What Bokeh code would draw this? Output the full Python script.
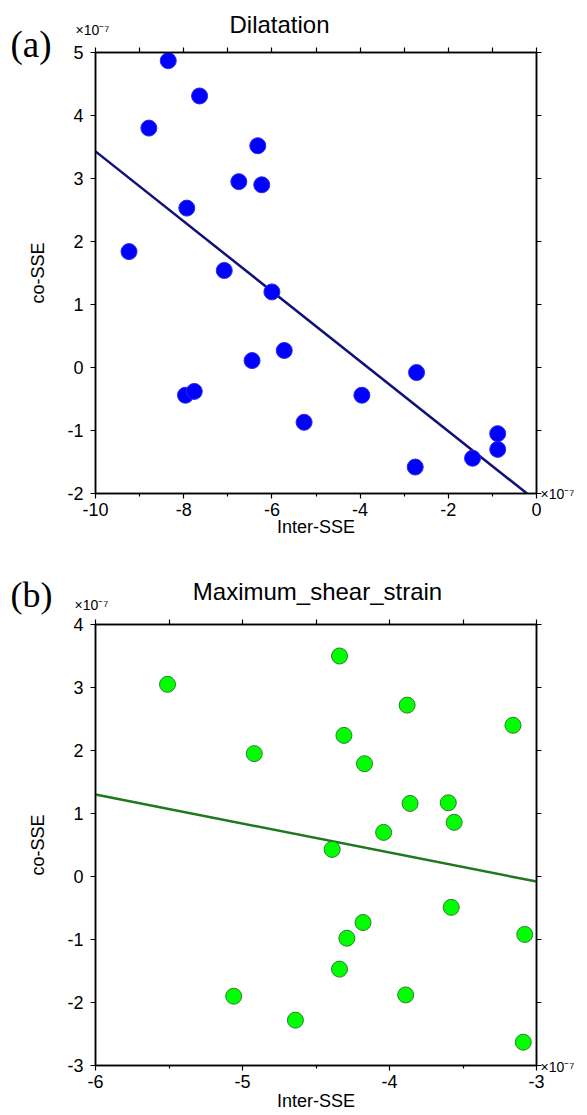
from bokeh.plotting import figure
from bokeh.models import Range1d, LinearAxis, FixedTicker, Label, CustomLabelingPolicy
from bokeh.layouts import column
from bokeh.embed import file_html
from bokeh.resources import INLINE
import numpy as np

# ---------------- data (values in units of 1e-7) ----------------
# Panel (a) Dilatation
dil_inter = [-8.35, -7.64, -8.79, -6.32, -6.75, -6.23, -7.93, -9.24, -7.08, -6.00, -6.45,
             -5.72, -7.96, -7.76, -5.27, -3.96, -2.72, -2.75, -1.45, -0.88, -0.88]
dil_co = [4.87, 4.31, 3.80, 3.52, 2.95, 2.90, 2.53, 1.84, 1.54, 1.20, 0.11,
          0.27, -0.44, -0.38, -0.87, -0.44, -0.08, -1.58, -1.44, -1.05, -1.30]
dil_fit_slope = -0.555
dil_fit_intercept = -2.12

# Panel (b) Maximum shear strain
shear_inter = [-5.51, -4.34, -3.88, -3.16, -4.92, -4.31, -4.17, -3.86, -3.60, -3.56, -4.04,
               -4.39, -3.58, -3.08, -4.18, -4.29, -4.34, -5.06, -4.64, -3.89, -3.09]
shear_co = [3.05, 3.50, 2.72, 2.40, 1.95, 2.24, 1.79, 1.16, 1.17, 0.86, 0.70,
            0.43, -0.49, -0.92, -0.73, -0.98, -1.47, -1.90, -2.28, -1.88, -2.63]
shear_fit_slope = -0.46
shear_fit_intercept = -1.46

# axis ticks
a_xticks = [-10, -8, -6, -4, -2, 0]
a_xminor = [-9, -7, -5, -3, -1]
a_xtop = [-10, -9, -8, -7, -6, -5, -4, -3, -2, -1, 0]
a_yticks = [-2, -1, 0, 1, 2, 3, 4, 5]
b_xticks = [-6, -5, -4, -3]
b_xminor = [-5.5, -4.5, -3.5]
b_xtop = [-6, -5.5, -5, -4.5, -4, -3.5, -3]
b_yticks = [-3, -2, -1, 0, 1, 2, 3, 4]

FONT = "Liberation Sans"
SERIF = "Liberation Serif"
W = 587
FS = "18px"


def hyphen_labels(ticks):
    return {t: ("%g" % t) for t in ticks}


def style_axis(ax, show_labels, ticks=None):
    ax.axis_line_color = "black"
    ax.axis_line_width = 1.5
    ax.major_tick_line_color = "black"
    ax.major_tick_line_width = 1.2
    ax.minor_tick_line_color = "black"
    ax.minor_tick_line_width = 1.2
    ax.major_tick_in = 0
    ax.major_tick_out = 5
    ax.minor_tick_in = 0
    ax.minor_tick_out = 3
    ax.major_label_text_font = FONT
    ax.major_label_text_color = "black"
    ax.axis_label_text_font = FONT
    ax.axis_label_text_font_size = FS
    ax.axis_label_text_font_style = "normal"
    ax.axis_label_text_color = "black"
    if show_labels:
        ax.major_label_text_font_size = FS
        ax.major_label_overrides = hyphen_labels(ticks)
    else:
        ax.major_label_text_font_size = "1px"
        ax.major_label_standoff = 0
        ax.major_label_policy = CustomLabelingPolicy(
            code="for (const i of indices) { indices.unset(i) } return indices")


def add_text(p, side, x, y, text, font, size, align="left"):
    # canvas units (origin at the top-left of the figure); placed in a side
    # panel so that the text is not clipped to the data frame
    p.add_layout(Label(x=x, y=y, x_units="canvas", y_units="canvas", text=text,
                       text_font=font, text_font_size=size, text_align=align,
                       text_baseline="middle", text_color="black"), side)


def panel(xr, yr, xt, xm, xtop, yt, height, borders, xs, ys, color, edge, fit, fitcolor,
          xlab_standoff):
    p = figure(width=W, height=height, x_range=Range1d(*xr), y_range=Range1d(*yr),
               output_backend="svg", toolbar_location=None,
               x_axis_location=None, y_axis_location=None,
               min_border_left=borders[0], min_border_right=borders[1],
               min_border_top=borders[2], min_border_bottom=borders[3])
    p.xgrid.visible = False
    p.ygrid.visible = False
    p.outline_line_color = "black"
    p.outline_line_width = 1.5
    p.background_fill_color = "white"
    p.border_fill_color = "white"

    left = LinearAxis(ticker=FixedTicker(ticks=yt), axis_label="co-SSE")
    style_axis(left, True, yt)
    left.major_label_standoff = 7
    left.axis_label_standoff = 16
    p.add_layout(left, "left")

    right = LinearAxis(ticker=FixedTicker(ticks=yt))
    style_axis(right, False)
    p.add_layout(right, "right")

    below = LinearAxis(ticker=FixedTicker(ticks=xt, minor_ticks=xm), axis_label="Inter-SSE")
    style_axis(below, True, xt)
    below.major_label_standoff = 4
    below.axis_label_standoff = xlab_standoff
    p.add_layout(below, "below")

    above = LinearAxis(ticker=FixedTicker(ticks=xtop))
    style_axis(above, False)
    p.add_layout(above, "above")

    # regression line
    lx = np.array([xr[0], xr[1]])
    ly = fit[0] * lx + fit[1]
    p.line(lx, ly, line_color=fitcolor, line_width=2.5)

    p.scatter(xs, ys, size=16, fill_color=color, line_color=edge, line_width=1)
    return p


HA = 556
HB = 1115 - HA

pa = panel((-10, 0), (-2, 5), a_xticks, a_xminor, a_xtop, a_yticks, HA, (95, 50, 52, HA - 493),
           dil_inter, dil_co, "#0000ff", "#2a2ae6", (dil_fit_slope, dil_fit_intercept), "#10107a", -2)
add_text(pa, "above", 279, 24, "Dilatation", FONT, "24px", "center")
add_text(pa, "above", 75, 29, "×10⁻⁷", FONT, "14px")
add_text(pa, "right", 10, 44, "(a)", SERIF, "37px")
add_text(pa, "below", 540, 493, "×10⁻⁷", FONT, "14px")

pb = panel((-6, -3), (-3, 4), b_xticks, b_xminor, b_xtop, b_yticks, HB, (94, 50, 623 - HA, HB - (1065 - HA)),
           shear_inter, shear_co, "#00ff00", "#2e7d2e", (shear_fit_slope, shear_fit_intercept), "#1e781e", 0)
add_text(pb, "above", 317, 591 - HA, "Maximum_shear_strain", FONT, "24px", "center")
add_text(pb, "above", 74, 604 - HA, "×10⁻⁷", FONT, "14px")
add_text(pb, "above", 540, 1066 - HA, "×10⁻⁷", FONT, "14px")
add_text(pb, "right", 10, 594 - HA, "(b)", SERIF, "36px")

layout = column(pa, pb)
open("out.html", "w").write(file_html(layout, INLINE))
